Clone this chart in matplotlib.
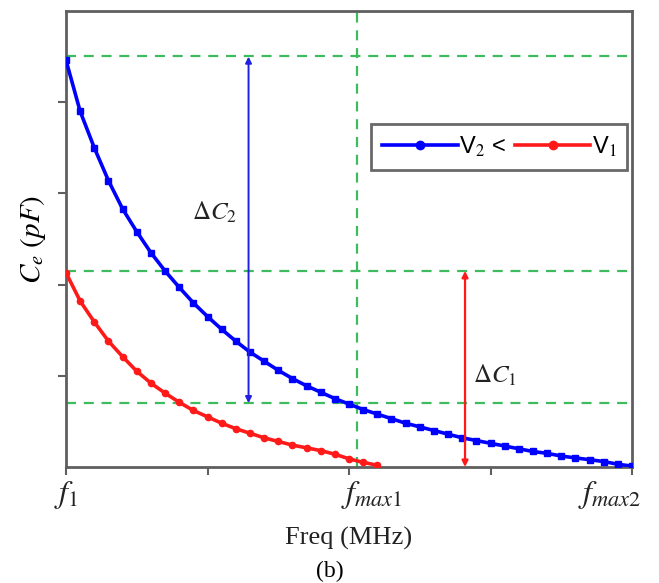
import matplotlib
matplotlib.use('Agg')
import matplotlib.pyplot as plt
from matplotlib.lines import Line2D

plt.rcParams['mathtext.fontset'] = 'stix'

# frequency axis in tick units (f1 = 0, fmax1 = 2, fmax2 = 4)
freq_v2 = [i / 10 for i in range(41)]
freq_v1 = [i / 10 for i in range(23)]

ce_v2 = [4.46, 3.90, 3.50, 3.14, 2.83, 2.58, 2.35, 2.15, 1.97, 1.80,
         1.65, 1.51, 1.38, 1.26, 1.16, 1.06, 0.97, 0.89, 0.82, 0.75,
         0.69, 0.63, 0.58, 0.53, 0.48, 0.44, 0.40, 0.36, 0.32, 0.29,
         0.26, 0.23, 0.20, 0.17, 0.15, 0.12, 0.10, 0.08, 0.06, 0.03, 0.01]
ce_v1 = [2.13, 1.82, 1.59, 1.38, 1.21, 1.05, 0.92, 0.81, 0.71, 0.62,
         0.55, 0.48, 0.42, 0.37, 0.32, 0.28, 0.24, 0.21, 0.18, 0.14,
         0.09, 0.05, 0.02]

x_ticks = [0, 1, 2, 3, 4]
# freq labels sit a little off their ticks in the original
x_label_pos = [0, 2.16, 3.84]
x_label_text = [r'$f_1$', r'$f_{max1}$', r'$f_{max2}$']

h_guides = [4.51, 2.15, 0.70]
v_guide = 2.06
dc2 = (1.29, 0.70, 4.50)
dc1 = (2.82, 0.0, 2.15)

guide_color = '#3dbb5e'
blue = '#0000ff'
red = '#ff1a1a'
axis_gray = '#5f5f5f'

fig = plt.figure(figsize=(6.59, 5.83), dpi=100)
ax = fig.add_axes([66 / 659, 1 - 467 / 583, 566 / 659, 456 / 583])

for yg in h_guides:
    ax.axhline(yg, color=guide_color, lw=1.6, dashes=(4.5, 3.5), zorder=1)
ax.axvline(v_guide, color=guide_color, lw=1.6, dashes=(4.5, 3.5), zorder=1)

ax.plot(freq_v2, ce_v2, color=blue, lw=2.6, marker='s', ms=4.5, zorder=3)
ax.plot(freq_v1, ce_v1, color=red, lw=2.6, marker='o', ms=4.5, zorder=3)

ax.annotate('', xy=(dc2[0], dc2[2]), xytext=(dc2[0], dc2[1]),
            arrowprops=dict(arrowstyle='<|-|>', color='#2020e0', lw=1.4,
                            mutation_scale=9, shrinkA=0, shrinkB=0), zorder=4)
ax.annotate('', xy=(dc1[0], dc1[2]), xytext=(dc1[0], dc1[1]),
            arrowprops=dict(arrowstyle='<|-|>', color=red, lw=1.6,
                            mutation_scale=9, shrinkA=0, shrinkB=0), zorder=4)
ax.text(1.05, 2.79, r'$\Delta C_2$', fontsize=18, ha='center', va='center', color='#222222')
ax.text(3.03, 1.01, r'$\Delta C_1$', fontsize=18, ha='center', va='center', color='#222222')

ax.set_xlim(0, 4)
ax.set_ylim(0, 5)
ax.set_xticks(x_ticks)
ax.set_xticklabels([])
ax.set_yticks([1, 2, 3, 4])
ax.set_yticklabels([])
ax.tick_params(direction='out', length=6, width=1.5, color=axis_gray)
for sp in ax.spines.values():
    sp.set_color(axis_gray)
    sp.set_linewidth(2)

trans = ax.get_xaxis_transform()
for xp, lab in zip(x_label_pos, x_label_text):
    ax.text(xp, -28 / 456, lab, transform=trans, fontsize=23,
            ha='center', va='center', color='#222222')

ax.set_ylabel(r'$C_e\ (pF)$', fontsize=21)
ax.yaxis.set_label_coords(-18 / 566, 0.5)
ax.set_xlabel('Freq (MHz)', fontsize=19, family='Liberation Serif', color='#222222')
ax.xaxis.set_label_coords(0.5, -60 / 456)
fig.text(0.5, 1 - 571 / 583, '(b)', fontsize=17, family='Liberation Serif',
         ha='center', va='center')

handles = [Line2D([], [], color=blue, lw=2.6, marker='o', ms=6),
           Line2D([], [], color=red, lw=2.6, marker='o', ms=6)]
leg = ax.legend(handles, [r'V$_2$ <', r'V$_1$'], ncol=2, loc='upper right',
                bbox_to_anchor=(0.991, 0.752), frameon=True,
                prop={'family': 'Liberation Sans', 'size': 17},
                fancybox=False, edgecolor='#444444', handlelength=3.2,
                handletextpad=0.05, columnspacing=0.4, borderpad=0.45,
                borderaxespad=0)
leg.get_frame().set_linewidth(2)

fig.savefig('out.png', dpi=100)
